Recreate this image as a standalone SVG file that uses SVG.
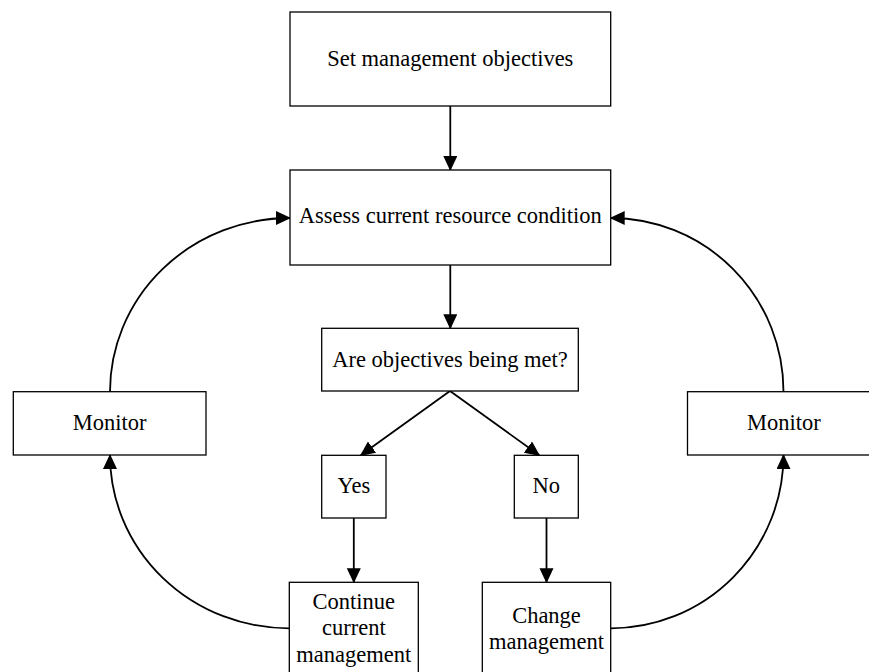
<svg xmlns="http://www.w3.org/2000/svg" width="869" height="672" viewBox="0 0 869 672" font-family="Liberation Serif, Times New Roman, serif">
<style>
  .box { fill: #ffffff; stroke: #000000; stroke-width: 1.3; }
  .lbl { font-size: 22.5px; fill: #000000; text-anchor: middle; }
  .conn { fill: none; stroke: #000000; stroke-width: 1.8; marker-end: url(#ah); }
</style>
<defs>
  <marker id="ah" markerUnits="userSpaceOnUse" markerWidth="16" markerHeight="16" refX="14" refY="7" orient="auto">
    <path d="M0,0 L15,7 L0,14 Z" fill="#000000"/>
  </marker>
</defs>
<rect width="869" height="672" fill="#ffffff"/>
<g id="connectors">
  <path class="conn" d="M450.3,106 L450.3,170"/>
  <path class="conn" d="M450.3,265 L450.3,328.3"/>
  <path class="conn" d="M450,391 L360.7,455.3"/>
  <path class="conn" d="M450,391 L539.3,455.3"/>
  <path class="conn" d="M353.8,518 L353.8,582.3"/>
  <path class="conn" d="M546.5,518 L546.5,582.3"/>
  <path class="conn" d="M110,391.7 A180,173.7 0 0 1 290,218"/>
  <path class="conn" d="M783.5,391.7 A172.8,173.7 0 0 0 610.7,218"/>
  <path class="conn" d="M289.3,628.3 A179.3,173.3 0 0 1 110,455"/>
  <path class="conn" d="M610.7,628.3 A172.8,173.3 0 0 0 783.5,455"/>
</g>
<g id="set-objectives">
  <rect class="box" x="290" y="12" width="320.7" height="94"/>
  <text class="lbl" x="450.3" y="66" font-family="Liberation Serif, serif">Set management objectives</text>
</g>
<g id="assess">
  <rect class="box" x="290" y="170" width="320.7" height="95"/>
  <text class="lbl" x="450.3" y="223" font-family="Liberation Serif, serif">Assess current resource condition</text>
</g>
<g id="question">
  <rect class="box" x="321.7" y="328.3" width="256.6" height="62.7"/>
  <text class="lbl" x="450" y="366.7" font-family="Liberation Serif, serif">Are objectives being met?</text>
</g>
<g id="yes">
  <rect class="box" x="321.7" y="455.3" width="64.3" height="62.7"/>
  <text class="lbl" x="353.8" y="493.3" font-family="Liberation Serif, serif">Yes</text>
</g>
<g id="no">
  <rect class="box" x="514.3" y="455.3" width="64" height="62.7"/>
  <text class="lbl" x="546.3" y="493.3" font-family="Liberation Serif, serif">No</text>
</g>
<g id="continue">
  <rect class="box" x="289.3" y="582.3" width="129" height="100"/>
  <text class="lbl" x="353.8" y="609.3" font-family="Liberation Serif, serif">Continue</text>
  <text class="lbl" x="353.8" y="635" font-family="Liberation Serif, serif">current</text>
  <text class="lbl" x="353.8" y="661.7" font-family="Liberation Serif, serif">management</text>
</g>
<g id="change">
  <rect class="box" x="482.3" y="582.3" width="128.4" height="100"/>
  <text class="lbl" x="546.5" y="623.3" font-family="Liberation Serif, serif">Change</text>
  <text class="lbl" x="546.5" y="649.3" font-family="Liberation Serif, serif">management</text>
</g>
<g id="monitor-left">
  <rect class="box" x="13.3" y="391.7" width="192.7" height="63.3"/>
  <text class="lbl" x="109.7" y="430" font-family="Liberation Serif, serif">Monitor</text>
</g>
<g id="monitor-right">
  <rect class="box" x="687.5" y="391.7" width="192.7" height="63.3"/>
  <text class="lbl" x="783.8" y="430" font-family="Liberation Serif, serif">Monitor</text>
</g>
</svg>
